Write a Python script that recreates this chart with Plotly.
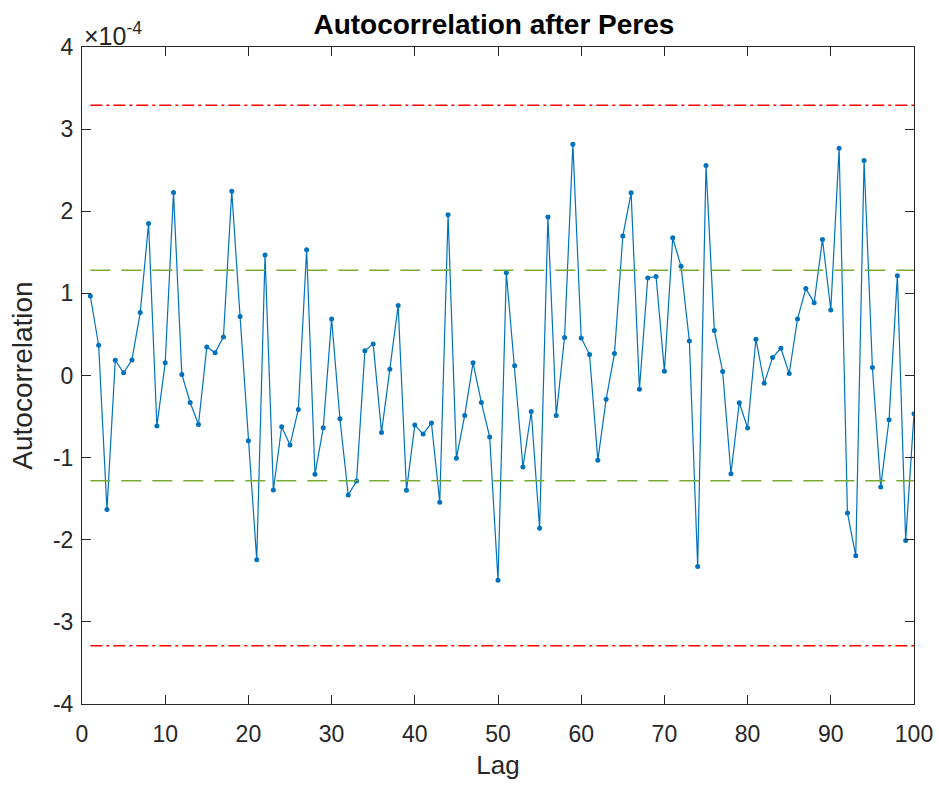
import plotly.graph_objects as go

lags = list(range(1, 101))
# autocorrelation values in units of 1e-4
acf_e4 = [0.968, 0.369, -1.633, 0.186, 0.032, 0.19, 0.766, 1.852, -0.616, 0.154,
          2.229, 0.012, -0.328, -0.596, 0.348, 0.276, 0.47, 2.245, 0.717, -0.794,
          -2.245, 1.467, -1.394, -0.624, -0.847, -0.413, 1.532, -1.203, -0.636, 0.689,
          -0.527, -1.455, -1.284, 0.300, 0.385, -0.693, 0.077, 0.851, -1.398, -0.604,
          -0.713, -0.579, -1.544, 1.957, -1.009, -0.486, 0.154, -0.328, -0.75, -2.492,
          1.252, 0.118, -1.114, -0.438, -1.860, 1.929, -0.486, 0.462, 2.816, 0.458,
          0.255, -1.033, -0.288, 0.267, 1.698, 2.224, -0.166, 1.187, 1.207, 0.053,
          1.677, 1.329, 0.421, -2.326, 2.557, 0.547, 0.049, -1.195, -0.332, -0.640,
          0.442, -0.093, 0.219, 0.332, 0.024, 0.689, 1.058, 0.887, 1.657, 0.798,
          2.767, -1.673, -2.196, 2.618, 0.097, -1.357, -0.539, 1.216, -2.010, -0.466]
scale = 1e-4
acf = [v * scale for v in acf_e4]

bound_90 = 1.2816e-4
bound_999 = 3.2905e-4

ytick_vals = [-4, -3, -2, -1, 0, 1, 2, 3, 4]
xtick_vals = [0, 10, 20, 30, 40, 50, 60, 70, 80, 90, 100]

fig = go.Figure()
fig.add_trace(go.Scatter(x=lags, y=acf, mode="lines+markers",
                         line=dict(color="#0072BD", width=1.2),
                         marker=dict(color="#0072BD", size=5),
                         showlegend=False))
for b in (bound_999, -bound_999):
    fig.add_trace(go.Scatter(x=[lags[0], lags[-1]], y=[b, b], mode="lines",
                             line=dict(color="#FF0000", width=1.4, dash="12px,4px,3px,4px"),
                             showlegend=False))
for b in (bound_90, -bound_90):
    fig.add_trace(go.Scatter(x=[lags[0], lags[-1]], y=[b, b], mode="lines",
                             line=dict(color="#77AC30", width=1.3, dash="20px,11px"),
                             showlegend=False))

axis_common = dict(showgrid=False, zeroline=False, showline=True, mirror="ticks",
                   linecolor="#262626", linewidth=1, ticks="inside", ticklen=9,
                   tickcolor="#262626", tickfont=dict(size=23, color="#262626"),
                   automargin=False)

fig.update_layout(
    width=939, height=789,
    margin=dict(l=82, r=25, t=47, b=85),
    paper_bgcolor="white", plot_bgcolor="white",
    font=dict(family="Liberation Sans, Arial, sans-serif", color="#262626"),
    title=dict(text="<b>Autocorrelation after Peres</b>", x=0.526, xanchor="center",
               y=0.969, yanchor="middle", font=dict(size=28, color="black")),
    xaxis=dict(range=[0, 100], tickvals=xtick_vals, ticklabelstandoff=9,
               title=dict(text="Lag", font=dict(size=26, color="#262626"), standoff=10),
               **axis_common),
    yaxis=dict(range=[-4 * scale, 4 * scale], tickvals=[v * scale for v in ytick_vals],
               ticktext=[str(v) for v in ytick_vals], ticklabelstandoff=3,
               title=dict(text="Autocorrelation", font=dict(size=28, color="#262626"), standoff=12),
               **axis_common),
)
fig.add_annotation(text="×10<sup>-4</sup>", xref="paper", yref="paper",
                   x=0.0, y=1.0, xanchor="left", yanchor="bottom", showarrow=False,
                   font=dict(size=25, color="#262626"), yshift=-5)

fig.write_html("out.html")
